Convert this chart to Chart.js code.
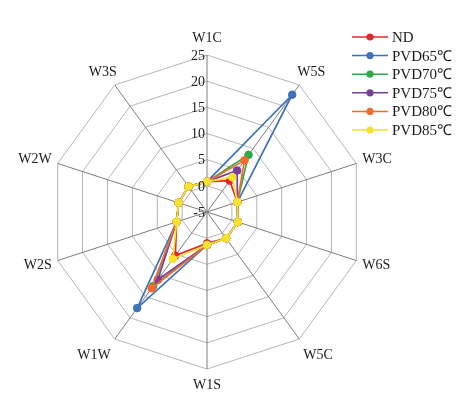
<!DOCTYPE html>
<html><head><meta charset="utf-8">
<script src="https://cdn.jsdelivr.net/npm/chart.js@4/dist/chart.umd.min.js"></script>
<style>html,body{margin:0;padding:0;background:#fff}</style>
</head><body>
<canvas id="c" width="467" height="402"></canvas>
<script>
const categories = ['W1C','W5S','W3C','W6S','W5C','W1S','W1W','W2S','W2W','W3S'];
const seriesNames = ['ND','PVD65\u2103','PVD70\u2103','PVD75\u2103','PVD80\u2103','PVD85\u2103'];
const ND     = [0.8, 2.4, 1.1, 1.2, 1.2, 1.0, 5.3, 1.1, 0.7, 1.0];
const PVD65  = [0.8, 22.7, 1.1, 1.2, 1.2, 1.3, 17.7, 1.1, 0.7, 1.0];
const PVD70  = [0.8, 8.5, 1.1, 1.2, 1.2, 1.3, 12.5, 1.1, 0.7, 1.0];
const PVD75  = [0.8, 4.8, 1.1, 1.2, 1.2, 1.3, 11.0, 1.1, 0.7, 1.0];
const PVD80  = [0.8, 7.2, 1.1, 1.2, 1.2, 1.3, 13.0, 1.1, 0.7, 1.0];
const PVD85  = [0.8, 3.2, 1.1, 1.2, 1.2, 1.3, 6.1, 1.1, 0.7, 1.0];
const tickMin = -5, tickMax = 25, tickStep = 5;

const seriesData = [ND, PVD65, PVD70, PVD75, PVD80, PVD85];
const colors = ['#e8262a','#3d72b6','#2fa84a','#7a3f98','#f26b2a','#f7e22e'];
const FONT = '14px "Liberation Serif", "Times New Roman", serif';
const LEGEND_FONT = '15px "Liberation Serif", "Times New Roman", serif';

const overlay = {
  id: 'overlay',
  afterDraw(chart) {
    const ctx = chart.ctx, s = chart.scales.r;
    ctx.save();
    ctx.font = FONT;
    ctx.fillStyle = '#1a1a1a';
    ctx.textAlign = 'right'; ctx.textBaseline = 'middle';
    s.ticks.forEach(t => {
      const d = s.getDistanceFromCenterForValue(t.value);
      ctx.fillText(t.label, s.xCenter - 2, s.yCenter - d + 1);
    });
    const R = s.drawingArea;
    categories.forEach((lab, i) => {
      const p = s.getPointPosition(i, R);
      const ang = i * 360 / categories.length;
      let x = p.x, y = p.y, align = 'center';
      if (ang === 0) { y -= 17; }
      else if (ang === 180) { y += 16; }
      else {
        const right = ang < 180;
        const sn = Math.abs(Math.sin(ang * Math.PI / 180));
        const cs = Math.cos(ang * Math.PI / 180);
        align = right ? 'left' : 'right';
        const dx = sn > 0.9 ? 6 : (cs > 0 ? -2 : 4);
        x += right ? dx : -dx;
        y += cs > 0 ? (sn > 0.9 ? -4 : -13) : (sn > 0.9 ? 5 : 16);
      }
      ctx.textAlign = align;
      ctx.fillText(lab, x, y);
    });
    // legend
    ctx.font = LEGEND_FONT;
    const lx0 = 352, lx1 = 388, ly0 = 37, lstep = 18.6;
    seriesNames.forEach((nm, i) => {
      const y = ly0 + i * lstep;
      ctx.strokeStyle = colors[i]; ctx.lineWidth = 1.5;
      ctx.beginPath(); ctx.moveTo(lx0, y); ctx.lineTo(lx1, y); ctx.stroke();
      ctx.fillStyle = colors[i];
      ctx.beginPath(); ctx.arc((lx0 + lx1) / 2, y, 3.6, 0, Math.PI * 2); ctx.fill();
      ctx.fillStyle = '#1a1a1a'; ctx.textAlign = 'left';
      ctx.fillText(nm, 392, y + 1);
    });
    ctx.restore();
  }
};

new Chart(document.getElementById('c'), {
  type: 'radar',
  data: {
    labels: categories,
    datasets: seriesData.map((d, i) => ({
      label: seriesNames[i],
      data: d,
      borderColor: colors[i],
      backgroundColor: colors[i],
      pointBackgroundColor: colors[i],
      pointBorderColor: colors[i],
      pointRadius: 3.8,
      pointBorderWidth: 1,
      borderWidth: 1.7,
      fill: false,
      order: seriesData.length - i
    }))
  },
  options: {
    responsive: false,
    animation: false,
    layout: { padding: { left: 50, right: 103, top: 55, bottom: 33 } },
    plugins: { legend: { display: false }, tooltip: { enabled: false } },
    scales: {
      r: {
        min: tickMin, max: tickMax,
        ticks: { stepSize: tickStep, display: false },
        grid: { color: '#b5b5b5', lineWidth: 1 },
        angleLines: { color: '#7d7d7d', lineWidth: 1 },
        pointLabels: { display: false }
      }
    }
  },
  plugins: [overlay]
});
</script>
</body></html>
